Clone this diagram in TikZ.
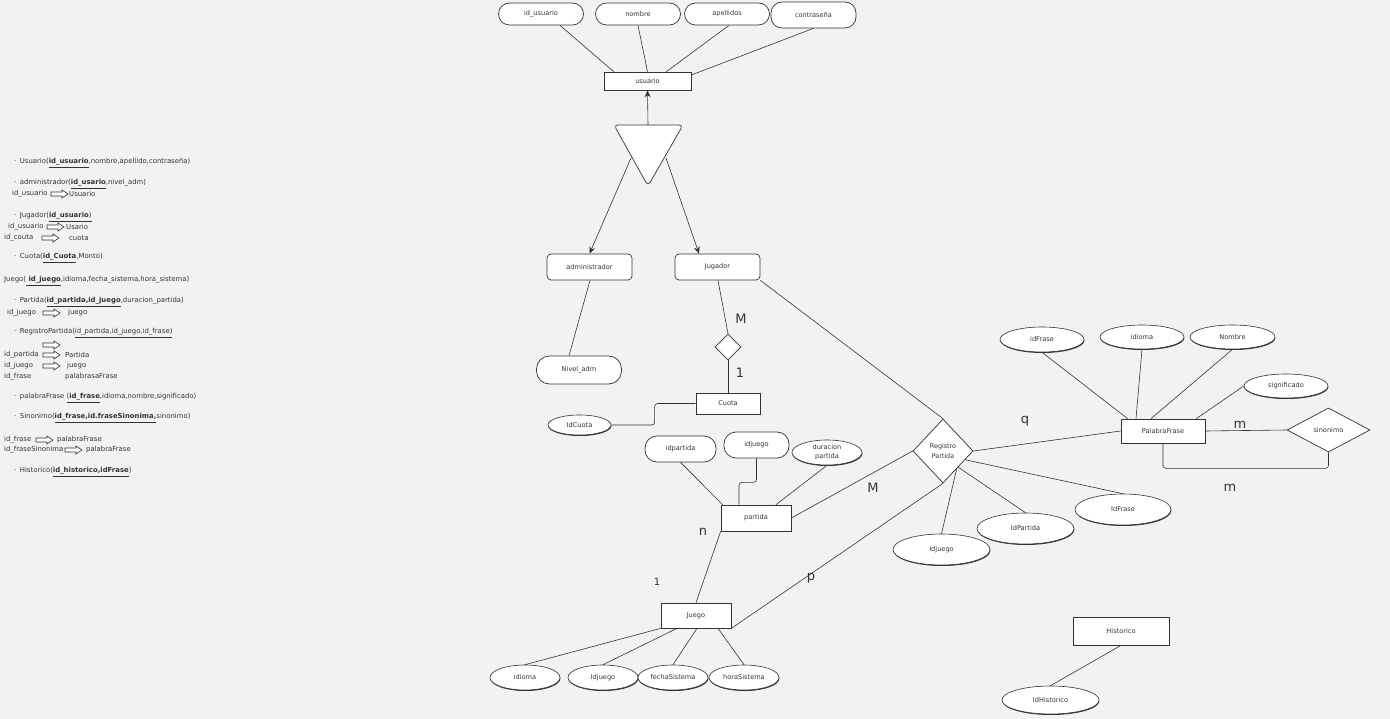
\documentclass[tikz,border=0pt]{standalone}
\usepackage{fontspec}
\setmainfont{DejaVu Sans}
\usetikzlibrary{shapes.geometric,arrows.meta,calc,shadows}

\definecolor{bg}{HTML}{F2F2F2}
\definecolor{ink}{HTML}{333333}

\tikzset{
  lbl/.style={font=\fontsize{6.6}{7.6}\selectfont, text=ink},
  entity/.style={rectangle, draw=ink, fill=white, line width=0.7pt, inner sep=0pt, align=center, lbl},
  roundent/.style={entity, rounded corners=4pt},
  pill/.style={entity, rounded corners=11pt},
  attr/.style={ellipse, draw=ink, fill=white, line width=0.6pt, inner sep=0pt, align=center, lbl,
    drop shadow={shadow xshift=0.4pt, shadow yshift=-1pt, fill=ink, opacity=1}},
  rel/.style={diamond, draw=ink, fill=white, line width=0.7pt, inner sep=0pt, align=center, lbl},
  card/.style={font=\fontsize{13}{14}\selectfont, text=ink, inner sep=0pt},
  link/.style={draw=ink, line width=0.6pt},
  isa arrow/.style={link, -{Stealth[length=7pt,width=6pt]}},
  listtxt/.style={anchor=west, inner sep=0pt, font=\fontsize{6.9}{7.5}\selectfont, text=ink},
  harr/.pic={\draw[ink, line width=0.6pt, fill=white]
    (0,-2) -- (11,-2) -- (11,-4) -- (17,0) -- (11,4) -- (11,2) -- (0,2) -- cycle;}
}

\begin{document}
\begin{tikzpicture}[x=1pt,y=-1pt]
\fill[bg] (0,0) rectangle (1390,719);
\useasboundingbox (0,0) rectangle (1390,719);

% ---------- relational schema (left column) ----------
\node[listtxt] (s1) at (14,163) {·\hspace{3.5pt}Usuario(\underline{\textbf{id\_usuario}},nombre,apellido,contraseña)};
\node[listtxt] (s2) at (14,184) {·\hspace{3.5pt}administrador(\underline{\textbf{id\_usario}},nivel\_adm)};
\node[listtxt] (s2a) at (12,194) {id\_usuario};
\pic at (51,194) {harr};
\node[listtxt] (s2b) at (69,194) {Usuario};
\node[listtxt] (s3) at (14,217) {·\hspace{3.5pt}Jugador(\underline{\textbf{id\_usuario})}};
\node[listtxt] (s3a) at (8,227) {id\_usuario};
\pic at (47,227) {harr};
\node[listtxt] (s3b) at (66,227) {Usario};
\node[listtxt] (s3c) at (4,238) {id\_couta};
\pic at (42,238) {harr};
\node[listtxt] (s3d) at (69,238) {cuota};
\node[listtxt] (s4) at (14,258) {·\hspace{3.5pt}Cuota(\underline{\textbf{id\_Cuota}},Monto)};
\node[listtxt] (s5) at (4,281) {Juego(\underline{\textbf{ id\_juego}},idioma,fecha\_sistema,hora\_sistema)};
\node[listtxt] (s6) at (14,302) {·\hspace{3.5pt}Partida(\underline{\textbf{id\_partida,id\_juego}},duracion\_partida)};
\node[listtxt] (s6a) at (7,313) {id\_juego};
\pic at (43,313) {harr};
\node[listtxt] (s6b) at (68,313) {juego};
\node[listtxt] (s7) at (14,333) {·\hspace{3.5pt}RegistroPartida(\underline{id\_partida,id\_juego,id\_frase)}};
\pic at (43,345) {harr};
\node[listtxt] (s7a) at (4,355) {id\_partida};
\pic at (43,355) {harr};
\node[listtxt] (s7b) at (65,355) {Partida};
\node[listtxt] (s7c) at (4,366) {id\_juego};
\pic at (43,366) {harr};
\node[listtxt] (s7d) at (67,366) {juego};
\node[listtxt] (s7e) at (4,377) {id\_frase};
\node[listtxt] (s7f) at (65,377) {palabrasaFrase};
\node[listtxt] (s8) at (14,398) {·\hspace{3.5pt}palabraFrase \underline{(\textbf{id\_frase}},idioma,nombre,significado)};
\node[listtxt] (s9) at (14,418) {·\hspace{3.5pt}Sinonimo(\underline{\textbf{id\_frase,id.fraseSinonima,}}sinonimo)};
\node[listtxt] (s9a) at (4,440) {id\_frase};
\pic at (36,440) {harr};
\node[listtxt] (s9b) at (57,440) {palabraFrase};
\node[listtxt] (s9c) at (4,450) {id\_fraseSinonima};
\pic at (65,450) {harr};
\node[listtxt] (s9d) at (86,450) {palabraFrase};
\node[listtxt] (s10) at (14,472) {·\hspace{3.5pt}Historico(\underline{\textbf{id\_historico,idFrase}})};

% ---------- usuario and its attributes ----------
\node[entity, minimum width=87pt, minimum height=18pt] (usu) at (647.5,81) {usuario};
\node[pill, minimum width=85pt, minimum height=22pt] (idu) at (541,14) {id\_usuario};
\node[pill, minimum width=85pt, minimum height=22pt] (nom) at (638,14) {nombre};
\node[pill, minimum width=85pt, minimum height=22pt] (ape) at (727,14) {apellidos};
\node[pill, minimum width=85pt, minimum height=26pt] (con) at (813.5,15) {contraseña};
\draw[link] ([xshift=19pt]idu.south) -- ([xshift=10pt]usu.north west);
\draw[link] (nom.south) -- (usu.north);
\draw[link] ([xshift=2pt]ape.south) -- ([xshift=-25pt]usu.north east);
\draw[link] (con.south) -- ([yshift=6pt]usu.east);

% ---------- specialisation triangle ----------
\coordinate (tTop) at (648,125);
\coordinate (tA) at (614,125);
\coordinate (tB) at (683,125);
\coordinate (tC) at (648,186);
\coordinate (tL) at (631,158);
\coordinate (tR) at (666,158);
\draw[link, line width=0.7pt, fill=white, rounded corners=4pt] (tTop) -- (tB) -- (tC) -- (tA) -- cycle;
\draw[isa arrow] (tTop) -- (usu.south);

\node[roundent, minimum width=85pt, minimum height=26pt] (adm) at (589.5,267) {administrador};
\node[roundent, minimum width=85pt, minimum height=26pt] (jug) at (717.5,267) {Jugador};
\draw[isa arrow] (tL) -- (adm.north);
\draw[isa arrow] (tR) -- ([xshift=-18.5pt]jug.north);

\node[pill, minimum width=85pt, minimum height=28pt, rounded corners=13pt] (niv) at (579,370) {Nivel\_adm};
\draw[link] ([xshift=0.5pt]adm.south) -- ([xshift=-10pt]niv.north);

% ---------- Jugador -- Cuota ----------
\node[rel, minimum width=26pt, minimum height=26pt] (r1) at (728,347) {};
\node[entity, minimum width=64pt, minimum height=21pt] (cuo) at (728,403.5) {Cuota};
\node[attr, minimum width=63pt, minimum height=20pt] (idc) at (579.5,425) {IdCuota};
\draw[link] ([xshift=0.5pt]jug.south) -- (r1.north);
\draw[link] (r1.south) -- (cuo.north);
\draw[link, rounded corners=3pt] (cuo.west) -- ++(-41,0) |- (idc.east);
\node[card] (cM1) at (741,319) {M};
\node[card] (c11) at (740,373) {1};

% ---------- Registro Partida ----------
\node[rel, minimum width=60pt, minimum height=64pt, font=\fontsize{6.4}{10}\selectfont] (reg) at (943,451) {Registro\\Partida};
\draw[link] (jug.south east) -- (reg.north);

\node[entity, minimum width=84pt, minimum height=24pt] (pal) at (1163,431) {PalabraFrase};
\node[attr, minimum width=96pt, minimum height=31pt] (if2) at (1123,509.5) {IdFrase};
\node[attr, minimum width=97pt, minimum height=31pt] (ipa) at (1025.5,528.5) {IdPartida};
\node[attr, minimum width=97pt, minimum height=31pt] (ij2) at (941.5,549.5) {Idjuego};
\draw[link] (reg.east) -- (pal.west);
\draw[link] ($(reg.east)!0.27!(reg.south)$) -- (if2.north);
\draw[link] ($(reg.east)!0.5!(reg.south)$) -- (ipa.north);
\draw[link] ($(reg.east)!0.55!(reg.south)$) -- (ij2.north);
\node[card] (cq) at (1025,421) {q};

% ---------- PalabraFrase and sinonimo ----------
\node[attr, minimum width=84pt, minimum height=25pt] (idF) at (1042,339.5) {idFrase};
\node[attr, minimum width=84pt, minimum height=24pt] (idi) at (1142,337) {idioma};
\node[attr, minimum width=85pt, minimum height=24pt] (nomb) at (1232.5,337) {Nombre};
\node[attr, minimum width=84pt, minimum height=24pt] (sig) at (1286,386) {significado};
\draw[link] (idF.south) -- ([xshift=7pt]pal.north west);
\draw[link] (idi.south) -- ([xshift=-27pt]pal.north);
\draw[link] (nomb.south) -- ([xshift=-12pt]pal.north);
\draw[link] (sig.west) -- ([xshift=-9pt]pal.north east);

\node[rel, minimum width=83pt, minimum height=44pt] (sin) at (1328.5,430) {sinonimo};
\draw[link] (pal.east) -- (sin.west);
\draw[link, rounded corners=3pt] (pal.south) -- ++(0,25) -| (sin.south);
\node[card] (cm1) at (1240,425) {m};
\node[card] (cm2) at (1230,488) {m};

% ---------- partida ----------
\node[entity, minimum width=70pt, minimum height=26pt] (par) at (756,518) {partida};
\node[pill, minimum width=71pt, minimum height=26pt, rounded corners=12pt] (idp) at (680.5,449) {idpartida};
\node[pill, minimum width=65pt, minimum height=26pt, rounded corners=12pt] (idj) at (756.5,445) {idjuego};
\node[attr, minimum width=70pt, minimum height=25pt, font=\fontsize{6.6}{9}\selectfont] (dur) at (827,452.5) {duracion\\partida};
\draw[link] (idp.south) -- ([xshift=2pt]par.north west);
\draw[link, rounded corners=3pt] (idj.south) -- ++(0,24) -| ([xshift=-17pt]par.north);
\draw[link] (dur.south) -- ([xshift=20pt]par.north);
\draw[link] (reg.west) -- (par.east);
\node[card] (cM2) at (873,488) {M};

% ---------- Juego ----------
\node[entity, minimum width=70pt, minimum height=25pt] (jue) at (696,615.5) {Juego};
\draw[link] (par.south west) -- (jue.north);
\draw[link] (reg.south) -- (jue.south east);
\node[card] (cn) at (703,532) {n};
\node[card, font=\fontsize{10}{11}\selectfont] (c12) at (657,582) {1};
\node[card] (cp) at (811,578) {p};

\node[attr, minimum width=70pt, minimum height=25pt] (id1) at (525,677.5) {idioma};
\node[attr, minimum width=70pt, minimum height=25pt] (ij1) at (603,677.5) {Idjuego};
\node[attr, minimum width=70pt, minimum height=25pt] (fs) at (673,677.5) {fechaSistema};
\node[attr, minimum width=70pt, minimum height=25pt] (hs) at (744,677.5) {horaSistema};
\draw[link] (jue.south west) -- (id1.north);
\draw[link] ([xshift=-19pt]jue.south) -- (ij1.north);
\draw[link] ([xshift=1pt]jue.south) -- (fs.north);
\draw[link] ([xshift=22pt]jue.south) -- (hs.north);

% ---------- Historico ----------
\node[entity, minimum width=96pt, minimum height=28pt] (his) at (1121,631) {Historico};
\node[attr, minimum width=97pt, minimum height=28pt] (ih) at (1050.5,700) {IdHistorico};
\draw[link] (his.south) -- (ih.north);
\end{tikzpicture}
\end{document}
